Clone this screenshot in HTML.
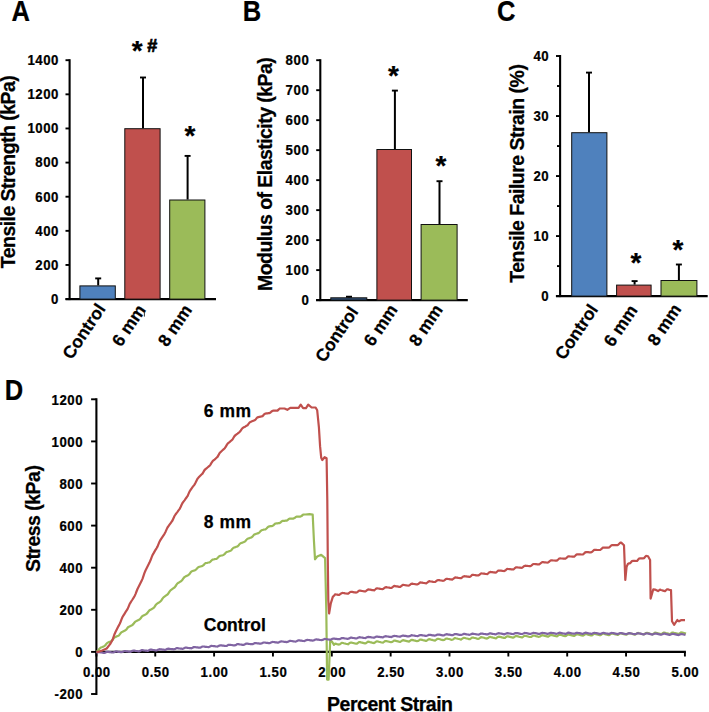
<!DOCTYPE html>
<html><head><meta charset="utf-8"><style>
html,body{margin:0;padding:0;background:#fff;}
svg{display:block;}
text{font-family:"Liberation Sans",sans-serif;font-weight:bold;fill:#000;stroke:#000;stroke-width:0.25px;}
</style></head><body>
<svg width="709" height="712" viewBox="0 0 709 712">
<rect width="709" height="712" fill="#fff"/>
<text x="0" y="0" font-size="29" transform="translate(11.5,20.6) scale(0.88,1)">A</text>
<line x1="69.60" y1="59.20" x2="69.60" y2="300.10" stroke="#000" stroke-width="2.1"/>
<line x1="65.50" y1="299.10" x2="69.60" y2="299.10" stroke="#000" stroke-width="1.9"/>
<text x="0" y="0" font-size="14.2" text-anchor="end" letter-spacing="0.6" transform="translate(59.00,304.00) scale(0.93,1)">0</text>
<line x1="65.50" y1="264.97" x2="69.60" y2="264.97" stroke="#000" stroke-width="1.9"/>
<text x="0" y="0" font-size="14.2" text-anchor="end" letter-spacing="0.6" transform="translate(59.00,269.87) scale(0.93,1)">200</text>
<line x1="65.50" y1="230.84" x2="69.60" y2="230.84" stroke="#000" stroke-width="1.9"/>
<text x="0" y="0" font-size="14.2" text-anchor="end" letter-spacing="0.6" transform="translate(59.00,235.74) scale(0.93,1)">400</text>
<line x1="65.50" y1="196.71" x2="69.60" y2="196.71" stroke="#000" stroke-width="1.9"/>
<text x="0" y="0" font-size="14.2" text-anchor="end" letter-spacing="0.6" transform="translate(59.00,201.61) scale(0.93,1)">600</text>
<line x1="65.50" y1="162.59" x2="69.60" y2="162.59" stroke="#000" stroke-width="1.9"/>
<text x="0" y="0" font-size="14.2" text-anchor="end" letter-spacing="0.6" transform="translate(59.00,167.49) scale(0.93,1)">800</text>
<line x1="65.50" y1="128.46" x2="69.60" y2="128.46" stroke="#000" stroke-width="1.9"/>
<text x="0" y="0" font-size="14.2" text-anchor="end" letter-spacing="0.6" transform="translate(59.00,133.36) scale(0.93,1)">1000</text>
<line x1="65.50" y1="94.33" x2="69.60" y2="94.33" stroke="#000" stroke-width="1.9"/>
<text x="0" y="0" font-size="14.2" text-anchor="end" letter-spacing="0.6" transform="translate(59.00,99.23) scale(0.93,1)">1200</text>
<line x1="65.50" y1="60.20" x2="69.60" y2="60.20" stroke="#000" stroke-width="1.9"/>
<text x="0" y="0" font-size="14.2" text-anchor="end" letter-spacing="0.6" transform="translate(59.00,65.10) scale(0.93,1)">1400</text>
<line x1="65.50" y1="299.10" x2="216.00" y2="299.10" stroke="#000" stroke-width="2.1"/>
<rect x="79.90" y="285.90" width="35.40" height="13.20" fill="#4F81BD" stroke="#111" stroke-width="1"/>
<line x1="98.20" y1="285.40" x2="98.20" y2="278.40" stroke="#000" stroke-width="2"/>
<line x1="95.20" y1="278.40" x2="101.20" y2="278.40" stroke="#000" stroke-width="1.9"/>
<rect x="124.80" y="128.70" width="35.30" height="170.40" fill="#C0504D" stroke="#111" stroke-width="1"/>
<line x1="143.00" y1="128.20" x2="143.00" y2="77.50" stroke="#000" stroke-width="2"/>
<line x1="140.00" y1="77.50" x2="146.00" y2="77.50" stroke="#000" stroke-width="1.9"/>
<rect x="169.70" y="200.00" width="35.20" height="99.10" fill="#9BBB59" stroke="#111" stroke-width="1"/>
<line x1="187.60" y1="199.50" x2="187.60" y2="155.90" stroke="#000" stroke-width="2"/>
<line x1="184.60" y1="155.90" x2="190.60" y2="155.90" stroke="#000" stroke-width="1.9"/>
<text x="0" y="0" font-size="19.5" text-anchor="start" transform="translate(15.3,268.2) rotate(-90)" textLength="193" lengthAdjust="spacing">Tensile Strength (kPa)</text>
<text x="0" y="0" font-size="29" transform="translate(242.7,20.6) scale(0.88,1)">B</text>
<line x1="320.30" y1="59.20" x2="320.30" y2="301.10" stroke="#000" stroke-width="2.1"/>
<line x1="316.20" y1="300.10" x2="320.30" y2="300.10" stroke="#000" stroke-width="1.9"/>
<text x="0" y="0" font-size="14.2" text-anchor="end" letter-spacing="0.6" transform="translate(309.30,305.00) scale(0.93,1)">0</text>
<line x1="316.20" y1="270.11" x2="320.30" y2="270.11" stroke="#000" stroke-width="1.9"/>
<text x="0" y="0" font-size="14.2" text-anchor="end" letter-spacing="0.6" transform="translate(309.30,275.01) scale(0.93,1)">100</text>
<line x1="316.20" y1="240.12" x2="320.30" y2="240.12" stroke="#000" stroke-width="1.9"/>
<text x="0" y="0" font-size="14.2" text-anchor="end" letter-spacing="0.6" transform="translate(309.30,245.03) scale(0.93,1)">200</text>
<line x1="316.20" y1="210.14" x2="320.30" y2="210.14" stroke="#000" stroke-width="1.9"/>
<text x="0" y="0" font-size="14.2" text-anchor="end" letter-spacing="0.6" transform="translate(309.30,215.04) scale(0.93,1)">300</text>
<line x1="316.20" y1="180.15" x2="320.30" y2="180.15" stroke="#000" stroke-width="1.9"/>
<text x="0" y="0" font-size="14.2" text-anchor="end" letter-spacing="0.6" transform="translate(309.30,185.05) scale(0.93,1)">400</text>
<line x1="316.20" y1="150.16" x2="320.30" y2="150.16" stroke="#000" stroke-width="1.9"/>
<text x="0" y="0" font-size="14.2" text-anchor="end" letter-spacing="0.6" transform="translate(309.30,155.06) scale(0.93,1)">500</text>
<line x1="316.20" y1="120.17" x2="320.30" y2="120.17" stroke="#000" stroke-width="1.9"/>
<text x="0" y="0" font-size="14.2" text-anchor="end" letter-spacing="0.6" transform="translate(309.30,125.07) scale(0.93,1)">600</text>
<line x1="316.20" y1="90.19" x2="320.30" y2="90.19" stroke="#000" stroke-width="1.9"/>
<text x="0" y="0" font-size="14.2" text-anchor="end" letter-spacing="0.6" transform="translate(309.30,95.09) scale(0.93,1)">700</text>
<line x1="316.20" y1="60.20" x2="320.30" y2="60.20" stroke="#000" stroke-width="1.9"/>
<text x="0" y="0" font-size="14.2" text-anchor="end" letter-spacing="0.6" transform="translate(309.30,65.10) scale(0.93,1)">800</text>
<line x1="316.10" y1="300.10" x2="467.80" y2="300.10" stroke="#000" stroke-width="2.1"/>
<rect x="330.80" y="297.80" width="36.00" height="2.30" fill="#2E4D75" stroke="#111" stroke-width="1"/>
<line x1="349.00" y1="297.30" x2="349.00" y2="296.70" stroke="#000" stroke-width="2"/>
<line x1="346.00" y1="296.70" x2="352.00" y2="296.70" stroke="#000" stroke-width="1.9"/>
<rect x="376.90" y="149.50" width="34.60" height="150.60" fill="#C0504D" stroke="#111" stroke-width="1"/>
<line x1="394.90" y1="149.00" x2="394.90" y2="90.60" stroke="#000" stroke-width="2"/>
<line x1="391.90" y1="90.60" x2="397.90" y2="90.60" stroke="#000" stroke-width="1.9"/>
<rect x="421.10" y="224.50" width="36.00" height="75.60" fill="#9BBB59" stroke="#111" stroke-width="1"/>
<line x1="439.50" y1="224.00" x2="439.50" y2="181.20" stroke="#000" stroke-width="2"/>
<line x1="436.50" y1="181.20" x2="442.50" y2="181.20" stroke="#000" stroke-width="1.9"/>
<text x="0" y="0" font-size="19.5" text-anchor="start" transform="translate(272.2,291) rotate(-90)" textLength="233.8" lengthAdjust="spacing">Modulus of Elasticity (kPa)</text>
<text x="0" y="0" font-size="29" transform="translate(496.9,20.9) scale(0.88,1)">C</text>
<line x1="560.10" y1="55.00" x2="560.10" y2="297.10" stroke="#000" stroke-width="2.1"/>
<line x1="556.00" y1="296.10" x2="560.10" y2="296.10" stroke="#000" stroke-width="1.9"/>
<text x="0" y="0" font-size="14.2" text-anchor="end" letter-spacing="0.6" transform="translate(549.20,301.00) scale(0.93,1)">0</text>
<line x1="556.00" y1="236.08" x2="560.10" y2="236.08" stroke="#000" stroke-width="1.9"/>
<text x="0" y="0" font-size="14.2" text-anchor="end" letter-spacing="0.6" transform="translate(549.20,240.98) scale(0.93,1)">10</text>
<line x1="556.00" y1="176.05" x2="560.10" y2="176.05" stroke="#000" stroke-width="1.9"/>
<text x="0" y="0" font-size="14.2" text-anchor="end" letter-spacing="0.6" transform="translate(549.20,180.95) scale(0.93,1)">20</text>
<line x1="556.00" y1="116.03" x2="560.10" y2="116.03" stroke="#000" stroke-width="1.9"/>
<text x="0" y="0" font-size="14.2" text-anchor="end" letter-spacing="0.6" transform="translate(549.20,120.93) scale(0.93,1)">30</text>
<line x1="556.00" y1="56.00" x2="560.10" y2="56.00" stroke="#000" stroke-width="1.9"/>
<text x="0" y="0" font-size="14.2" text-anchor="end" letter-spacing="0.6" transform="translate(549.20,60.90) scale(0.93,1)">40</text>
<line x1="557.00" y1="266.09" x2="560.10" y2="266.09" stroke="#000" stroke-width="1.9"/>
<line x1="557.00" y1="206.06" x2="560.10" y2="206.06" stroke="#000" stroke-width="1.9"/>
<line x1="557.00" y1="146.04" x2="560.10" y2="146.04" stroke="#000" stroke-width="1.9"/>
<line x1="557.00" y1="86.01" x2="560.10" y2="86.01" stroke="#000" stroke-width="1.9"/>
<line x1="555.90" y1="296.10" x2="707.70" y2="296.10" stroke="#000" stroke-width="2.1"/>
<rect x="571.70" y="132.70" width="35.20" height="163.40" fill="#4F81BD" stroke="#111" stroke-width="1"/>
<line x1="589.00" y1="132.20" x2="589.00" y2="72.60" stroke="#000" stroke-width="2"/>
<line x1="586.00" y1="72.60" x2="592.00" y2="72.60" stroke="#000" stroke-width="1.9"/>
<rect x="616.60" y="285.10" width="34.50" height="11.00" fill="#C0504D" stroke="#111" stroke-width="1"/>
<line x1="634.60" y1="284.60" x2="634.60" y2="281.10" stroke="#000" stroke-width="2"/>
<line x1="631.60" y1="281.10" x2="637.60" y2="281.10" stroke="#000" stroke-width="1.9"/>
<rect x="661.00" y="280.50" width="35.90" height="15.60" fill="#9BBB59" stroke="#111" stroke-width="1"/>
<line x1="678.90" y1="280.00" x2="678.90" y2="264.50" stroke="#000" stroke-width="2"/>
<line x1="675.90" y1="264.50" x2="681.90" y2="264.50" stroke="#000" stroke-width="1.9"/>
<text x="0" y="0" font-size="19.5" text-anchor="start" transform="translate(524,282.7) rotate(-90)" textLength="218.6" lengthAdjust="spacing">Tensile Failure Strain (%)</text>
<text x="137.10" y="60.40" font-size="28" text-anchor="middle" >*</text>
<text x="190.00" y="144.70" font-size="28" text-anchor="middle" >*</text>
<text x="393.50" y="84.50" font-size="28" text-anchor="middle" >*</text>
<text x="441.00" y="175.00" font-size="28" text-anchor="middle" >*</text>
<text x="636.00" y="271.90" font-size="28" text-anchor="middle" >*</text>
<text x="678.00" y="259.20" font-size="28" text-anchor="middle" >*</text>
<text x="152.30" y="51.80" font-size="18" text-anchor="middle" style="stroke-width:0.7px">#</text>
<text x="0" y="0" font-size="17.5" text-anchor="end" transform="translate(106.2,308.8) rotate(-56)">Control</text>
<text x="0" y="0" font-size="17.5" text-anchor="end" transform="translate(146.5,309.8) rotate(-56)">6 mm</text>
<text x="0" y="0" font-size="17.5" text-anchor="end" transform="translate(192.6,309.9) rotate(-56)">8 mm</text>
<text x="0" y="0" font-size="17.5" text-anchor="end" transform="translate(359,311.8) rotate(-56)">Control</text>
<text x="0" y="0" font-size="17.5" text-anchor="end" transform="translate(398.3,309.7) rotate(-56)">6 mm</text>
<text x="0" y="0" font-size="17.5" text-anchor="end" transform="translate(443.5,309.7) rotate(-56)">8 mm</text>
<text x="0" y="0" font-size="17.5" text-anchor="end" transform="translate(598.7,309.4) rotate(-56)">Control</text>
<text x="0" y="0" font-size="17.5" text-anchor="end" transform="translate(638.2,310.1) rotate(-56)">6 mm</text>
<text x="0" y="0" font-size="17.5" text-anchor="end" transform="translate(682.0,309.2) rotate(-56)">8 mm</text>
<line x1="144.40" y1="311.80" x2="144.40" y2="316.60" stroke="#333" stroke-width="1"/>
<text x="0" y="0" font-size="29" transform="translate(4.7,399.7) scale(0.88,1)">D</text>
<line x1="96.40" y1="398.30" x2="96.40" y2="695.00" stroke="#000" stroke-width="2.1"/>
<line x1="91.10" y1="694.00" x2="96.40" y2="694.00" stroke="#000" stroke-width="1.9"/>
<text x="0" y="0" font-size="15" text-anchor="end" letter-spacing="0.6" transform="translate(83.00,699.20) scale(0.88,1)">-200</text>
<line x1="91.10" y1="651.90" x2="96.40" y2="651.90" stroke="#000" stroke-width="1.9"/>
<text x="0" y="0" font-size="15" text-anchor="end" letter-spacing="0.6" transform="translate(83.00,657.10) scale(0.88,1)">0</text>
<line x1="91.10" y1="609.80" x2="96.40" y2="609.80" stroke="#000" stroke-width="1.9"/>
<text x="0" y="0" font-size="15" text-anchor="end" letter-spacing="0.6" transform="translate(83.00,615.00) scale(0.88,1)">200</text>
<line x1="91.10" y1="567.70" x2="96.40" y2="567.70" stroke="#000" stroke-width="1.9"/>
<text x="0" y="0" font-size="15" text-anchor="end" letter-spacing="0.6" transform="translate(83.00,572.90) scale(0.88,1)">400</text>
<line x1="91.10" y1="525.60" x2="96.40" y2="525.60" stroke="#000" stroke-width="1.9"/>
<text x="0" y="0" font-size="15" text-anchor="end" letter-spacing="0.6" transform="translate(83.00,530.80) scale(0.88,1)">600</text>
<line x1="91.10" y1="483.50" x2="96.40" y2="483.50" stroke="#000" stroke-width="1.9"/>
<text x="0" y="0" font-size="15" text-anchor="end" letter-spacing="0.6" transform="translate(83.00,488.70) scale(0.88,1)">800</text>
<line x1="91.10" y1="441.40" x2="96.40" y2="441.40" stroke="#000" stroke-width="1.9"/>
<text x="0" y="0" font-size="15" text-anchor="end" letter-spacing="0.6" transform="translate(83.00,446.60) scale(0.88,1)">1000</text>
<line x1="91.10" y1="399.30" x2="96.40" y2="399.30" stroke="#000" stroke-width="1.9"/>
<text x="0" y="0" font-size="15" text-anchor="end" letter-spacing="0.6" transform="translate(83.00,404.50) scale(0.88,1)">1200</text>
<line x1="96.40" y1="651.90" x2="685.90" y2="651.90" stroke="#000" stroke-width="2.1"/>
<line x1="96.40" y1="651.90" x2="96.40" y2="656.50" stroke="#000" stroke-width="1.9"/>
<text x="0" y="0" font-size="15" text-anchor="middle" letter-spacing="0.6" transform="translate(96.80,677.20) scale(0.88,1)">0.00</text>
<line x1="155.25" y1="651.90" x2="155.25" y2="656.50" stroke="#000" stroke-width="1.9"/>
<text x="0" y="0" font-size="15" text-anchor="middle" letter-spacing="0.6" transform="translate(155.65,677.20) scale(0.88,1)">0.50</text>
<line x1="214.10" y1="651.90" x2="214.10" y2="656.50" stroke="#000" stroke-width="1.9"/>
<text x="0" y="0" font-size="15" text-anchor="middle" letter-spacing="0.6" transform="translate(214.50,677.20) scale(0.88,1)">1.00</text>
<line x1="272.95" y1="651.90" x2="272.95" y2="656.50" stroke="#000" stroke-width="1.9"/>
<text x="0" y="0" font-size="15" text-anchor="middle" letter-spacing="0.6" transform="translate(273.35,677.20) scale(0.88,1)">1.50</text>
<line x1="331.80" y1="651.90" x2="331.80" y2="656.50" stroke="#000" stroke-width="1.9"/>
<text x="0" y="0" font-size="15" text-anchor="middle" letter-spacing="0.6" transform="translate(332.20,677.20) scale(0.88,1)">2.00</text>
<line x1="390.65" y1="651.90" x2="390.65" y2="656.50" stroke="#000" stroke-width="1.9"/>
<text x="0" y="0" font-size="15" text-anchor="middle" letter-spacing="0.6" transform="translate(391.05,677.20) scale(0.88,1)">2.50</text>
<line x1="449.50" y1="651.90" x2="449.50" y2="656.50" stroke="#000" stroke-width="1.9"/>
<text x="0" y="0" font-size="15" text-anchor="middle" letter-spacing="0.6" transform="translate(449.90,677.20) scale(0.88,1)">3.00</text>
<line x1="508.35" y1="651.90" x2="508.35" y2="656.50" stroke="#000" stroke-width="1.9"/>
<text x="0" y="0" font-size="15" text-anchor="middle" letter-spacing="0.6" transform="translate(508.75,677.20) scale(0.88,1)">3.50</text>
<line x1="567.20" y1="651.90" x2="567.20" y2="656.50" stroke="#000" stroke-width="1.9"/>
<text x="0" y="0" font-size="15" text-anchor="middle" letter-spacing="0.6" transform="translate(567.60,677.20) scale(0.88,1)">4.00</text>
<line x1="626.05" y1="651.90" x2="626.05" y2="656.50" stroke="#000" stroke-width="1.9"/>
<text x="0" y="0" font-size="15" text-anchor="middle" letter-spacing="0.6" transform="translate(626.45,677.20) scale(0.88,1)">4.50</text>
<line x1="684.90" y1="651.90" x2="684.90" y2="656.50" stroke="#000" stroke-width="1.9"/>
<text x="0" y="0" font-size="15" text-anchor="middle" letter-spacing="0.6" transform="translate(685.30,677.20) scale(0.88,1)">5.00</text>
<text x="0" y="0" font-size="19.5" text-anchor="start" transform="translate(39.5,572.1) rotate(-90)" textLength="107" lengthAdjust="spacing">Stress (kPa)</text>
<text x="327.00" y="710.50" font-size="19.5" text-anchor="start" textLength="126" lengthAdjust="spacing" >Percent Strain</text>
<text x="203.80" y="416.80" font-size="17.5" text-anchor="start" textLength="47.3" lengthAdjust="spacing" >6 mm</text>
<text x="203.80" y="528.10" font-size="17.5" text-anchor="start" textLength="47.3" lengthAdjust="spacing" >8 mm</text>
<text x="203.80" y="631.00" font-size="17.5" text-anchor="start" textLength="62" lengthAdjust="spacing" >Control</text>
<polyline points="96.5,651.3 97.5,650.9 98.5,650.0 99.5,648.7 100.5,647.7 101.5,647.3 102.5,646.9 103.5,646.4 104.5,646.0 105.5,645.1 106.5,643.7 107.5,642.7 108.5,642.3 109.5,641.8 110.5,641.4 111.5,640.9 112.5,640.0 113.5,638.6 114.5,637.5 115.5,637.1 116.5,636.6 117.5,636.1 118.5,635.7 119.5,634.7 120.5,633.3 121.5,632.2 122.5,631.8 123.5,631.3 124.5,630.8 125.5,630.3 126.5,629.4 127.5,627.9 128.5,626.9 129.5,626.4 130.5,625.9 131.5,625.4 132.5,624.9 133.5,623.9 134.5,622.5 135.5,621.4 136.5,621.0 137.5,620.5 138.5,620.0 139.5,619.5 140.5,618.5 141.5,617.1 142.5,616.0 143.5,615.5 144.5,615.0 145.5,614.5 146.5,613.9 147.5,612.9 148.5,611.4 149.5,610.3 150.5,609.7 151.5,609.2 152.5,608.6 153.5,608.0 154.5,606.9 155.5,605.3 156.5,604.1 157.5,603.4 158.5,602.8 159.5,602.1 160.5,601.4 161.5,600.2 162.5,598.6 163.5,597.3 164.5,596.6 165.5,595.9 166.5,595.2 167.5,594.5 168.5,593.3 169.5,591.6 170.5,590.3 171.5,589.6 172.5,588.9 173.5,588.2 174.5,587.5 175.5,586.3 176.5,584.7 177.5,583.4 178.5,582.8 179.5,582.1 180.5,581.5 181.5,580.8 182.5,579.7 183.5,578.2 184.5,577.0 185.5,576.5 186.5,575.9 187.5,575.4 188.5,574.9 189.5,574.0 190.5,572.6 191.5,571.5 192.5,571.1 193.5,570.7 194.5,570.4 195.5,570.0 196.5,569.2 197.5,567.9 198.5,567.1 199.5,566.8 200.5,566.5 201.5,566.2 202.5,565.9 203.5,565.2 204.5,564.0 205.5,563.2 206.5,563.0 207.5,562.8 208.5,562.5 209.5,562.3 210.5,561.6 211.5,560.5 212.5,559.7 213.5,559.5 214.5,559.2 215.5,559.0 216.5,558.8 217.5,558.1 218.5,556.9 219.5,556.1 220.5,555.8 221.5,555.5 222.5,555.3 223.5,555.0 224.5,554.2 225.5,553.0 226.5,552.1 227.5,551.8 228.5,551.5 229.5,551.1 230.5,550.8 231.5,550.0 232.5,548.7 233.5,547.8 234.5,547.4 235.5,547.1 236.5,546.7 237.5,546.4 238.5,545.5 239.5,544.2 240.5,543.3 241.5,542.9 242.5,542.6 243.5,542.2 244.5,541.8 245.5,541.0 246.5,539.7 247.5,538.8 248.5,538.4 249.5,538.1 250.5,537.7 251.5,537.4 252.5,536.6 253.5,535.3 254.5,534.4 255.5,534.1 256.5,533.7 257.5,533.4 258.5,533.1 259.5,532.4 260.5,531.1 261.5,530.3 262.5,530.0 263.5,529.7 264.5,529.5 265.5,529.3 266.5,528.5 267.5,527.4 268.5,526.6 269.5,526.4 270.5,526.2 271.5,526.1 272.5,525.9 273.5,525.3 274.5,524.2 275.5,523.5 276.5,523.4 277.5,523.3 278.5,523.2 279.5,523.1 280.5,522.5 281.5,521.5 282.5,520.9 283.5,520.8 284.5,520.8 285.5,520.7 286.5,520.7 287.5,520.2 288.5,519.2 289.5,518.6 290.5,518.6 291.5,518.6 292.5,518.6 293.5,518.6 294.5,518.1 295.5,517.2 296.5,516.6 297.5,516.6 298.5,516.6 299.5,516.6 300.5,516.6 301.5,516.1 302.5,515.1 303.5,514.6 304.5,514.5 305.5,514.5 309.5,514.2 312.7,514.7 313.9,540.0 315.0,559.3 317.2,556.5 321.2,554.8 325.1,558.2 326.3,610.0 327.1,679.6 328.6,679.6 330.2,640.5 332.1,641.7 334.0,644.9 335.0,643.6 336.0,643.8 337.0,644.1 338.0,644.3 339.0,644.6 340.0,644.2 341.0,643.4 342.0,642.8 343.0,643.0 344.0,643.3 345.0,643.5 346.0,643.8 347.0,644.0 348.0,644.3 349.0,643.5 350.0,642.8 351.0,642.5 352.0,642.7 353.0,643.0 354.0,643.2 355.0,643.5 356.0,643.7 357.0,643.7 358.0,642.9 359.0,642.2 360.0,642.1 361.0,642.4 362.0,642.6 363.0,642.9 364.0,643.2 365.0,643.4 366.0,643.1 367.0,642.3 368.0,641.6 369.0,641.8 370.0,642.1 371.0,642.3 372.0,642.6 373.0,642.8 374.0,643.1 375.0,642.5 376.0,641.7 377.0,641.3 378.0,641.5 379.0,641.8 380.0,642.0 381.0,642.3 382.0,642.5 383.0,642.6 384.0,641.9 385.0,641.1 386.0,641.0 387.0,641.2 388.0,641.5 389.0,641.7 390.0,642.0 391.0,642.2 392.0,642.0 393.0,641.3 394.0,640.5 395.0,640.7 396.0,640.9 397.0,641.2 398.0,641.4 399.0,641.7 400.0,642.0 401.0,641.4 402.0,640.7 403.0,640.1 404.0,640.4 405.0,640.7 406.0,640.9 407.0,641.2 408.0,641.4 409.0,641.6 410.0,640.8 411.0,640.1 412.0,639.9 413.0,640.1 414.0,640.4 415.0,640.6 416.0,640.9 417.0,641.1 418.0,641.0 419.0,640.3 420.0,639.5 421.0,639.6 422.0,639.8 423.0,640.1 424.0,640.3 425.0,640.6 426.0,640.9 427.0,640.4 428.0,639.7 429.0,639.1 430.0,639.3 431.0,639.6 432.0,639.8 433.0,640.1 434.0,640.3 435.0,640.6 436.0,639.9 437.0,639.1 438.0,638.8 439.0,639.0 440.0,639.3 441.0,639.6 442.0,639.8 443.0,640.1 444.0,640.0 445.0,639.3 446.0,638.6 447.0,638.5 448.0,638.8 449.0,639.0 450.0,639.3 451.0,639.6 452.0,639.8 453.0,639.5 454.0,638.7 455.0,638.0 456.0,638.3 457.0,638.5 458.0,638.8 459.0,639.0 460.0,639.3 461.0,639.6 462.0,638.9 463.0,638.2 464.0,637.8 465.0,638.0 466.0,638.3 467.0,638.5 468.0,638.8 469.0,639.1 470.0,639.1 471.0,638.4 472.0,637.7 473.0,637.5 474.0,637.8 475.0,638.0 476.0,638.3 477.0,638.6 478.0,638.8 479.0,638.6 480.0,637.9 481.0,637.1 482.0,637.3 483.0,637.5 484.0,637.8 485.0,638.1 486.0,638.3 487.0,638.6 488.0,638.1 489.0,637.3 490.0,636.8 491.0,637.1 492.0,637.3 493.0,637.6 494.0,637.8 495.0,638.1 496.0,638.3 497.0,637.5 498.0,636.8 499.0,636.6 500.0,636.8 501.0,637.1 502.0,637.4 503.0,637.6 504.0,637.9 505.0,637.8 506.0,637.0 507.0,636.3 508.0,636.4 509.0,636.6 510.0,636.9 511.0,637.2 512.0,637.4 513.0,637.7 514.0,637.3 515.0,636.5 516.0,635.9 517.0,636.2 518.0,636.4 519.0,636.7 520.0,637.0 521.0,637.2 522.0,637.5 523.0,636.8 524.0,636.0 525.0,635.7 526.0,636.0 527.0,636.2 528.0,636.5 529.0,636.8 530.0,637.0 531.0,637.0 532.0,636.3 533.0,635.6 534.0,635.5 535.0,635.8 536.0,636.1 537.0,636.3 538.0,636.6 539.0,636.8 540.0,636.5 541.0,635.8 542.0,635.1 543.0,635.3 544.0,635.6 545.0,635.9 546.0,636.1 547.0,636.4 548.0,636.7 549.0,636.1 550.0,635.3 551.0,634.9 552.0,635.2 553.0,635.4 554.0,635.7 555.0,636.0 556.0,636.2 557.0,636.3 558.0,635.6 559.0,634.9 560.0,634.7 561.0,635.0 562.0,635.3 563.0,635.6 564.0,635.8 565.0,636.1 566.0,635.9 567.0,635.1 568.0,634.4 569.0,634.6 570.0,634.9 571.0,635.1 572.0,635.4 573.0,635.7 574.0,635.9 575.0,635.4 576.0,634.7 577.0,634.2 578.0,634.5 579.0,634.7 580.0,635.0 581.0,635.3 582.0,635.5 583.0,635.7 584.0,635.0 585.0,634.3 586.0,634.0 587.0,634.3 588.0,634.6 589.0,634.9 590.0,635.1 591.0,635.4 592.0,635.3 593.0,634.6 594.0,633.9 595.0,633.9 596.0,634.2 597.0,634.5 598.0,634.7 599.0,635.0 600.0,635.3 601.0,634.9 602.0,634.2 603.0,633.5 604.0,633.8 605.0,634.1 606.0,634.4 607.0,634.6 608.0,634.9 609.0,635.2 610.0,634.5 611.0,633.8 612.0,633.4 613.0,633.7 614.0,634.0 615.0,634.3 616.0,634.5 617.0,634.8 618.0,634.8 619.0,634.1 620.0,633.4 621.0,633.3 622.0,633.6 623.0,633.9 624.0,634.2 625.0,634.5 626.0,634.7 627.0,634.4 628.0,633.7 629.0,633.0 630.0,633.3 631.0,633.5 632.0,633.8 633.0,634.1 634.0,634.4 635.0,634.7 636.0,634.0 637.0,633.3 638.0,632.9 639.0,633.2 640.0,633.5 641.0,633.8 642.0,634.0 643.0,634.3 644.0,634.4 645.0,633.7 646.0,633.0 647.0,632.9 648.0,633.1 649.0,633.4 650.0,633.7 651.0,634.0 652.0,634.3 653.0,634.1 654.0,633.3 655.0,632.6 656.0,632.8 657.0,633.1 658.0,633.4 659.0,633.7 660.0,633.9 661.0,634.2 662.0,633.7 663.0,633.0 664.0,632.5 665.0,632.8 666.0,633.1 667.0,633.3 668.0,633.6 669.0,633.9 670.0,634.1 671.0,633.4 672.0,632.7 673.0,632.5 674.0,632.8 675.0,633.0 676.0,633.3 677.0,633.6 678.0,633.9 679.0,633.8 680.0,633.1 681.0,632.4 682.0,632.5 683.0,632.7 684.0,633.0 685.0,633.3 686.0,633.6" fill="none" stroke="#9BBB59" stroke-width="2.2" stroke-linejoin="round"/>
<polyline points="96.5,652.9 97.5,652.4 98.5,652.0 99.5,652.2 100.5,652.4 101.5,652.5 102.5,652.7 103.5,652.8 104.5,652.9 105.5,652.4 106.5,651.9 107.5,651.8 108.5,651.9 109.5,652.1 110.5,652.2 111.5,652.4 112.5,652.5 113.5,652.4 114.5,651.9 115.5,651.4 116.5,651.4 117.5,651.6 118.5,651.8 119.5,651.9 120.5,652.1 121.5,652.2 122.5,651.9 123.5,651.4 124.5,651.0 125.5,651.1 126.5,651.3 127.5,651.4 128.5,651.6 129.5,651.7 130.5,651.8 131.5,651.3 132.5,650.8 133.5,650.6 134.5,650.7 135.5,650.9 136.5,651.0 137.5,651.2 138.5,651.3 139.5,651.3 140.5,650.7 141.5,650.2 142.5,650.2 143.5,650.3 144.5,650.5 145.5,650.6 146.5,650.7 147.5,650.9 148.5,650.6 149.5,650.1 150.5,649.6 151.5,649.7 152.5,649.9 153.5,650.0 154.5,650.2 155.5,650.3 156.5,650.4 157.5,650.0 158.5,649.5 159.5,649.2 160.5,649.3 161.5,649.4 162.5,649.6 163.5,649.7 164.5,649.8 165.5,649.9 166.5,649.3 167.5,648.8 168.5,648.7 169.5,648.8 170.5,649.0 171.5,649.1 172.5,649.2 173.5,649.4 174.5,649.2 175.5,648.7 176.5,648.1 177.5,648.2 178.5,648.3 179.5,648.5 180.5,648.6 181.5,648.7 182.5,648.9 183.5,648.5 184.5,648.0 185.5,647.6 186.5,647.7 187.5,647.8 188.5,648.0 189.5,648.1 190.5,648.2 191.5,648.3 192.5,647.8 193.5,647.2 194.5,647.0 195.5,647.2 196.5,647.3 197.5,647.4 198.5,647.6 199.5,647.7 200.5,647.6 201.5,647.0 202.5,646.5 203.5,646.5 204.5,646.6 205.5,646.8 206.5,646.9 207.5,647.0 208.5,647.2 209.5,646.8 210.5,646.3 211.5,645.8 212.5,646.0 213.5,646.1 214.5,646.2 215.5,646.4 216.5,646.5 217.5,646.6 218.5,646.1 219.5,645.6 220.5,645.3 221.5,645.4 222.5,645.6 223.5,645.7 224.5,645.8 225.5,646.0 226.5,645.9 227.5,645.4 228.5,644.8 229.5,644.8 230.5,644.9 231.5,645.0 232.5,645.2 233.5,645.3 234.5,645.4 235.5,645.2 236.5,644.6 237.5,644.1 238.5,644.2 239.5,644.4 240.5,644.5 241.5,644.6 242.5,644.8 243.5,644.9 244.5,644.4 245.5,643.9 246.5,643.6 247.5,643.7 248.5,643.8 249.5,644.0 250.5,644.1 251.5,644.2 252.5,644.2 253.5,643.7 254.5,643.2 255.5,643.0 256.5,643.2 257.5,643.3 258.5,643.4 259.5,643.6 260.5,643.7 261.5,643.5 262.5,643.0 263.5,642.5 264.5,642.5 265.5,642.7 266.5,642.8 267.5,642.9 268.5,643.1 269.5,643.2 270.5,642.8 271.5,642.3 272.5,641.9 273.5,642.0 274.5,642.1 275.5,642.3 276.5,642.4 277.5,642.6 278.5,642.6 279.5,642.1 280.5,641.6 281.5,641.4 282.5,641.5 283.5,641.7 284.5,641.8 285.5,641.9 286.5,642.1 287.5,641.9 288.5,641.4 289.5,640.9 290.5,640.9 291.5,641.0 292.5,641.2 293.5,641.3 294.5,641.5 295.5,641.6 296.5,641.3 297.5,640.8 298.5,640.3 299.5,640.4 300.5,640.6 301.5,640.7 302.5,640.9 303.5,641.0 304.5,641.1 305.5,640.6 306.5,640.1 307.5,639.9 308.5,640.0 309.5,640.1 310.5,640.3 311.5,640.4 312.5,640.6 313.5,640.5 314.5,640.0 315.5,639.5 316.5,639.4 317.5,639.6 318.5,639.7 319.5,639.9 320.5,640.0 321.5,640.1 322.5,639.9 323.5,639.4 324.5,638.9 325.5,639.0 326.5,639.2 327.5,639.3 328.5,639.5 329.5,639.6 330.5,639.7 331.5,639.3 332.5,638.8 333.5,638.5 334.5,638.6 335.5,638.8 336.5,638.9 337.5,639.1 338.5,639.2 339.5,639.2 340.5,638.7 341.5,638.2 342.5,638.1 343.5,638.2 344.5,638.4 345.5,638.5 346.5,638.7 347.5,638.8 348.5,638.7 349.5,638.2 350.5,637.7 351.5,637.7 352.5,637.9 353.5,638.0 354.5,638.2 355.5,638.3 356.5,638.5 357.5,638.1 358.5,637.6 359.5,637.2 360.5,637.4 361.5,637.5 362.5,637.7 363.5,637.9 364.5,638.0 365.5,638.1 366.5,637.6 367.5,637.1 368.5,636.9 369.5,637.1 370.5,637.2 371.5,637.4 372.5,637.5 373.5,637.7 374.5,637.6 375.5,637.1 376.5,636.6 377.5,636.6 378.5,636.8 379.5,636.9 380.5,637.1 381.5,637.2 382.5,637.4 383.5,637.1 384.5,636.6 385.5,636.2 386.5,636.3 387.5,636.5 388.5,636.6 389.5,636.8 390.5,636.9 391.5,637.1 392.5,636.6 393.5,636.1 394.5,635.9 395.5,636.0 396.5,636.2 397.5,636.4 398.5,636.5 399.5,636.7 400.5,636.6 401.5,636.1 402.5,635.7 403.5,635.6 404.5,635.8 405.5,635.9 406.5,636.1 407.5,636.3 408.5,636.4 409.5,636.2 410.5,635.7 411.5,635.2 412.5,635.4 413.5,635.5 414.5,635.7 415.5,635.9 416.5,636.0 417.5,636.2 418.5,635.8 419.5,635.3 420.5,635.0 421.5,635.1 422.5,635.3 423.5,635.5 424.5,635.6 425.5,635.8 426.5,635.8 427.5,635.4 428.5,634.9 429.5,634.8 430.5,634.9 431.5,635.1 432.5,635.3 433.5,635.4 434.5,635.6 435.5,635.5 436.5,635.0 437.5,634.5 438.5,634.6 439.5,634.7 440.5,634.9 441.5,635.1 442.5,635.3 443.5,635.4 444.5,635.1 445.5,634.6 446.5,634.2 447.5,634.4 448.5,634.6 449.5,634.7 450.5,634.9 451.5,635.1 452.5,635.2 453.5,634.7 454.5,634.2 455.5,634.1 456.5,634.2 457.5,634.4 458.5,634.6 459.5,634.8 460.5,634.9 461.5,634.8 462.5,634.4 463.5,633.9 464.5,633.9 465.5,634.1 466.5,634.3 467.5,634.5 468.5,634.6 469.5,634.8 470.5,634.5 471.5,634.0 472.5,633.6 473.5,633.8 474.5,634.0 475.5,634.2 476.5,634.3 477.5,634.5 478.5,634.7 479.5,634.2 480.5,633.7 481.5,633.5 482.5,633.7 483.5,633.9 484.5,634.0 485.5,634.2 486.5,634.4 487.5,634.4 488.5,633.9 489.5,633.4 490.5,633.4 491.5,633.6 492.5,633.8 493.5,634.0 494.5,634.1 495.5,634.3 496.5,634.1 497.5,633.6 498.5,633.2 499.5,633.3 500.5,633.5 501.5,633.7 502.5,633.9 503.5,634.1 504.5,634.3 505.5,633.8 506.5,633.4 507.5,633.1 508.5,633.3 509.5,633.5 510.5,633.6 511.5,633.8 512.5,634.0 513.5,634.1 514.5,633.6 515.5,633.1 516.5,633.0 517.5,633.2 518.5,633.4 519.5,633.6 520.5,633.8 521.5,634.0 522.5,633.8 523.5,633.4 524.5,632.9 525.5,633.0 526.5,633.2 527.5,633.4 528.5,633.6 529.5,633.8 530.5,634.0 531.5,633.6 532.5,633.2 533.5,632.8 534.5,633.0 535.5,633.2 536.5,633.4 537.5,633.6 538.5,633.8 539.5,633.9 540.5,633.4 541.5,633.0 542.5,632.8 543.5,633.0 544.5,633.2 545.5,633.4 546.5,633.6 547.5,633.8 548.5,633.7 549.5,633.2 550.5,632.8 551.5,632.8 552.5,633.0 553.5,633.2 554.5,633.4 555.5,633.6 556.5,633.8 557.5,633.5 558.5,633.1 559.5,632.7 560.5,632.9 561.5,633.1 562.5,633.3 563.5,633.5 564.5,633.7 565.5,633.9 566.5,633.4 567.5,632.9 568.5,632.7 569.5,632.9 570.5,633.1 571.5,633.3 572.5,633.5 573.5,633.7 574.5,633.7 575.5,633.3 576.5,632.8 577.5,632.8 578.5,633.0 579.5,633.2 580.5,633.4 581.5,633.6 582.5,633.8 583.5,633.6 584.5,633.1 585.5,632.7 586.5,632.9 587.5,633.1 588.5,633.3 589.5,633.5 590.5,633.7 591.5,633.9 592.5,633.5 593.5,633.0 594.5,632.8 595.5,633.0 596.5,633.2 597.5,633.4 598.5,633.6 599.5,633.8 600.5,633.9 601.5,633.4 602.5,633.0 603.5,632.9 604.5,633.1 605.5,633.3 606.5,633.5 607.5,633.7 608.5,633.9 609.5,633.8 610.5,633.3 611.5,632.9 612.5,633.0 613.5,633.2 614.5,633.4 615.5,633.6 616.5,633.8 617.5,634.1 618.5,633.7 619.5,633.3 620.5,633.0 621.5,633.2 622.5,633.4 623.5,633.6 624.5,633.8 625.5,634.0 626.5,634.1 627.5,633.7 628.5,633.3 629.5,633.1 630.5,633.3 631.5,633.5 632.5,633.8 633.5,634.0 634.5,634.2 635.5,634.1 636.5,633.7 637.5,633.2 638.5,633.3 639.5,633.5 640.5,633.7 641.5,633.9 642.5,634.2 643.5,634.4 644.5,634.1 645.5,633.7 646.5,633.3 647.5,633.5 648.5,633.7 649.5,633.9 650.5,634.1 651.5,634.4 652.5,634.6 653.5,634.1 654.5,633.7 655.5,633.5 656.5,633.7 657.5,633.9 658.5,634.1 659.5,634.4 660.5,634.6 661.5,634.6 662.5,634.2 663.5,633.7 664.5,633.7 665.5,633.9 666.5,634.2 667.5,634.4 668.5,634.6 669.5,634.8 670.5,634.6 671.5,634.2 672.5,633.8 673.5,634.0 674.5,634.2 675.5,634.4 676.5,634.6 677.5,634.8 678.5,635.1 679.5,634.7 680.5,634.3 681.5,634.0 682.5,634.2 683.5,634.5 684.5,634.7 685.5,634.9" fill="none" stroke="#8064A2" stroke-width="2.2" stroke-linejoin="round"/>
<polyline points="96.5,651.6 98.0,652.0 102.2,650.5 106.7,648.5 109.5,644.9 110.5,643.5 111.5,641.7 112.5,639.9 113.5,637.1 114.5,634.2 115.5,632.0 116.5,630.0 117.5,628.0 118.5,626.1 119.5,624.3 120.5,622.0 121.5,619.4 122.5,617.0 123.5,615.4 124.5,613.8 125.5,612.2 126.5,610.7 127.5,609.2 128.5,606.8 129.5,604.3 130.5,602.6 131.5,601.0 132.5,599.5 133.5,597.9 134.5,596.2 135.5,594.1 136.5,591.5 137.5,589.0 138.5,587.1 139.5,585.1 140.5,583.1 141.5,581.0 142.5,578.9 143.5,575.9 144.5,572.9 145.5,570.5 146.5,568.5 147.5,566.5 148.5,564.5 149.5,562.6 150.5,560.3 151.5,557.6 152.5,555.1 153.5,553.4 154.5,551.6 155.5,549.9 156.5,548.3 157.5,546.6 158.5,544.1 159.5,541.7 160.5,539.9 161.5,538.3 162.5,536.8 163.5,535.3 164.5,533.8 165.5,531.9 166.5,529.6 167.5,527.5 168.5,526.1 169.5,524.7 170.5,523.3 171.5,521.9 172.5,520.5 173.5,518.3 174.5,516.0 175.5,514.5 176.5,513.1 177.5,511.8 178.5,510.4 179.5,509.1 180.5,507.3 181.5,505.0 182.5,503.0 183.5,501.6 184.5,500.3 185.5,498.9 186.5,497.5 187.5,496.2 188.5,493.9 189.5,491.6 190.5,490.0 191.5,488.6 192.5,487.2 193.5,485.9 194.5,484.6 195.5,482.8 196.5,480.7 197.5,478.8 198.5,477.6 199.5,476.5 200.5,475.5 201.5,474.5 202.5,473.6 203.5,471.9 204.5,470.1 205.5,469.1 206.5,468.3 207.5,467.5 208.5,466.7 209.5,465.9 210.5,464.6 211.5,462.8 212.5,461.3 213.5,460.4 214.5,459.6 215.5,458.7 216.5,457.8 217.5,456.9 218.5,455.1 219.5,453.3 220.5,452.1 221.5,451.2 222.5,450.3 223.5,449.4 224.5,448.5 225.5,447.2 226.5,445.4 227.5,443.8 228.5,442.9 229.5,442.1 230.5,441.2 231.5,440.4 232.5,439.5 233.5,437.8 234.5,436.1 235.5,435.1 236.5,434.3 237.5,433.6 238.5,432.8 239.5,432.1 240.5,431.0 241.5,429.4 242.5,428.1 243.5,427.5 244.5,426.9 245.5,426.4 246.5,425.8 247.5,425.3 248.5,423.9 249.5,422.6 250.5,421.9 251.5,421.5 252.5,421.1 253.5,420.7 254.5,420.3 255.5,419.6 256.5,418.3 257.5,417.4 258.5,417.1 259.5,416.8 260.5,416.6 261.5,416.4 262.5,416.1 263.5,415.1 264.5,414.0 265.5,413.6 266.5,413.4 267.5,413.3 268.5,413.2 269.5,413.1 270.5,412.5 271.5,411.5 272.5,410.8 273.5,410.7 274.5,410.7 275.5,410.6 276.5,410.6 277.5,410.6 278.5,409.6 279.5,408.7 280.5,408.5 281.5,408.5 282.5,408.5 283.5,408.5 284.5,408.5 287.3,409.8 290.2,407.8 298.6,407.8 300.7,404.7 303.1,408.1 306.0,408.1 308.2,404.7 311.6,407.5 315.6,407.5 317.2,410.3 318.9,427.2 320.1,446.4 321.2,457.7 322.3,460.0 324.6,457.2 326.6,458.3 327.3,500.0 327.8,560.0 328.3,600.0 329.1,613.5 330.8,603.4 332.8,596.9 334.2,595.5 335.2,594.3 336.2,594.5 337.2,594.6 338.2,594.8 339.2,595.0 340.2,594.2 341.2,593.4 342.2,592.9 343.2,593.0 344.2,593.2 345.2,593.4 346.2,593.5 347.2,593.7 348.2,593.6 349.2,592.8 350.2,592.0 351.2,591.8 352.2,591.9 353.2,592.1 354.2,592.3 355.2,592.4 356.2,592.6 357.2,592.2 358.2,591.4 359.2,590.6 360.2,590.7 361.2,590.8 362.2,591.0 363.2,591.2 364.2,591.3 365.2,591.5 366.2,590.9 367.2,590.0 368.2,589.4 369.2,589.6 370.2,589.7 371.2,589.9 372.2,590.1 373.2,590.2 374.2,590.3 375.2,589.5 376.2,588.6 377.2,588.3 378.2,588.5 379.2,588.6 380.2,588.8 381.2,589.0 382.2,589.1 383.2,588.9 384.2,588.1 385.2,587.3 386.2,587.2 387.2,587.4 388.2,587.5 389.2,587.7 390.2,587.9 391.2,588.0 392.2,587.5 393.2,586.7 394.2,585.9 395.2,586.1 396.2,586.3 397.2,586.4 398.2,586.6 399.2,586.8 400.2,586.9 401.2,586.1 402.2,585.3 403.2,584.8 404.2,585.0 405.2,585.2 406.2,585.3 407.2,585.5 408.2,585.6 409.2,585.5 410.2,584.7 411.2,583.8 412.2,583.7 413.2,583.9 414.2,584.0 415.2,584.2 416.2,584.3 417.2,584.5 418.2,584.1 419.2,583.2 420.2,582.4 421.2,582.6 422.2,582.7 423.2,582.9 424.2,583.0 425.2,583.2 426.2,583.3 427.2,582.6 428.2,581.8 429.2,581.2 430.2,581.4 431.2,581.5 432.2,581.7 433.2,581.9 434.2,582.0 435.2,582.0 436.2,581.1 437.2,580.3 438.2,580.1 439.2,580.2 440.2,580.4 441.2,580.5 442.2,580.7 443.2,580.8 444.2,580.5 445.2,579.6 446.2,578.8 447.2,578.8 448.2,579.0 449.2,579.1 450.2,579.3 451.2,579.4 452.2,579.6 453.2,578.9 454.2,578.1 455.2,577.4 456.2,577.6 457.2,577.7 458.2,577.9 459.2,578.0 460.2,578.2 461.2,578.2 462.2,577.4 463.2,576.5 464.2,576.2 465.2,576.3 466.2,576.4 467.2,576.6 468.2,576.7 469.2,576.9 470.2,576.6 471.2,575.8 472.2,574.9 473.2,574.8 474.2,575.0 475.2,575.1 476.2,575.3 477.2,575.4 478.2,575.5 479.2,575.0 480.2,574.1 481.2,573.4 482.2,573.5 483.2,573.6 484.2,573.7 485.2,573.9 486.2,574.0 487.2,574.1 488.2,573.3 489.2,572.4 490.2,571.9 491.2,572.1 492.2,572.2 493.2,572.3 494.2,572.4 495.2,572.6 496.2,572.4 497.2,571.5 498.2,570.7 499.2,570.5 500.2,570.6 501.2,570.7 502.2,570.8 503.2,571.0 504.2,571.1 505.2,570.6 506.2,569.7 507.2,568.9 508.2,569.0 509.2,569.1 510.2,569.2 511.2,569.3 512.2,569.4 513.2,569.5 514.2,568.8 515.2,567.9 516.2,567.3 517.2,567.4 518.2,567.5 519.2,567.6 520.2,567.7 521.2,567.8 522.2,567.7 523.2,566.9 524.2,566.0 525.2,565.7 526.2,565.8 527.2,565.9 528.2,566.0 529.2,566.1 530.2,566.2 531.2,565.8 532.2,564.9 533.2,564.0 534.2,564.0 535.2,564.1 536.2,564.2 537.2,564.3 538.2,564.4 539.2,564.4 540.2,563.7 541.2,562.8 542.2,562.1 543.2,562.2 544.2,562.3 545.2,562.4 546.2,562.5 547.2,562.6 548.2,562.5 549.2,561.6 550.2,560.7 551.2,560.3 552.2,560.4 553.2,560.5 554.2,560.5 555.2,560.6 556.2,560.7 557.2,560.4 558.2,559.5 559.2,558.5 560.2,558.4 561.2,558.5 562.2,558.5 563.2,558.6 564.2,558.7 565.2,558.7 566.2,558.1 567.2,557.2 568.2,556.4 569.2,556.4 570.2,556.5 571.2,556.5 572.2,556.6 573.2,556.7 574.2,556.7 575.2,555.8 576.2,554.8 577.2,554.3 578.2,554.3 579.2,554.4 580.2,554.4 581.2,554.5 582.2,554.5 583.2,554.3 584.2,553.4 585.2,552.4 586.2,552.1 587.2,552.2 588.2,552.2 589.2,552.3 590.2,552.3 591.2,552.3 592.2,551.8 593.2,550.8 594.2,549.9 595.2,549.9 596.2,549.9 597.2,550.0 598.2,550.0 599.2,550.0 600.2,550.0 601.2,549.2 602.2,548.2 603.2,547.5 604.2,547.6 605.2,547.6 606.2,547.6 607.2,547.6 608.2,547.6 609.2,547.5 610.2,546.5 611.2,545.5 612.2,545.1 613.2,545.1 614.2,545.1 615.2,545.1 616.2,545.2 617.2,545.2 618.2,544.7 619.2,543.7 620.2,542.7 621.2,542.6 624.0,545.3 625.3,580.0 626.6,566.7 628.0,563.7 629.0,563.4 630.0,563.4 631.0,562.2 632.0,561.0 633.0,560.9 634.0,560.9 635.0,560.9 636.0,561.0 637.0,561.0 638.0,559.8 639.0,558.5 640.0,558.4 641.0,558.3 642.0,558.3 643.0,558.3 644.0,558.2 645.0,557.0 646.0,555.9 647.0,556.0 648.0,556.3 650.1,560.0 650.6,598.6 653.3,589.3 655.0,589.6 656.0,590.1 657.0,590.6 658.0,591.1 659.0,590.4 660.0,589.6 661.0,590.0 662.0,590.3 663.0,590.6 664.0,590.9 665.0,591.2 666.0,590.2 667.0,589.3 668.0,589.4 669.0,589.7 670.0,590.0 671.0,590.0 672.0,621.3 674.1,624.8 677.3,620.0 678.0,620.9 679.0,621.3 680.0,620.7 681.0,620.2 682.0,620.1 683.0,620.1 684.0,620.1 685.0,620.1" fill="none" stroke="#C0504D" stroke-width="2.2" stroke-linejoin="round"/>
</svg>
</body></html>
